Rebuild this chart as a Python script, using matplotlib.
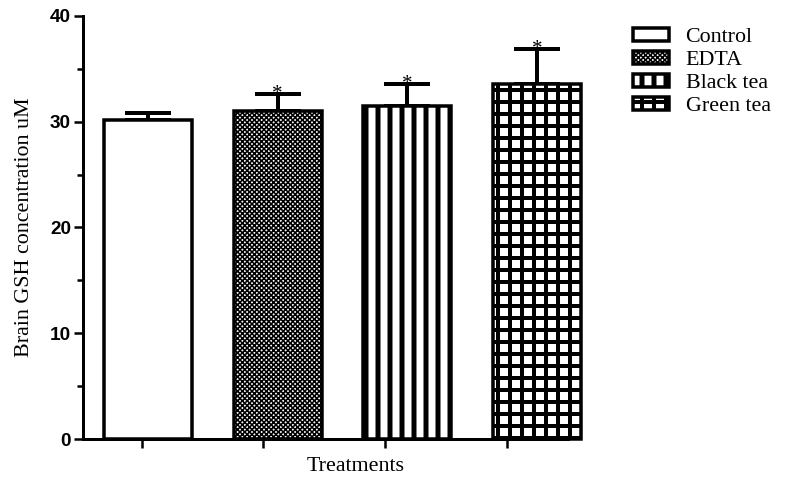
import matplotlib
matplotlib.use("Agg")
import matplotlib.pyplot as plt

treatments = ["Control", "EDTA", "Black tea", "Green tea"]
gsh_mean = [30.2, 31.0, 31.5, 33.6]
gsh_sem = [0.6, 1.6, 2.1, 3.3]
significant = [False, True, True, True]

hatches = ["", "xxxxx", "|", "+"]
hatch_lw = [1.0, 1.6, 5.0, 4.0]

plt.rcParams["font.family"] = ["Liberation Serif", "DejaVu Serif"]

fig = plt.figure(figsize=(788 / 72, 479 / 72), dpi=72)
ax = fig.add_axes([83 / 788, 40 / 479, 485 / 788, 423 / 479])

x = list(range(len(treatments)))
for i in x:
    with plt.rc_context({"hatch.linewidth": hatch_lw[i], "hatch.color": "black"}):
        ax.bar(i, gsh_mean[i], width=0.678, color="white", edgecolor="black",
               linewidth=3.5, hatch=hatches[i], label=treatments[i],
               clip_on=False, zorder=3)

# upward-only error bars (SEM)
ax.errorbar(x, gsh_mean, yerr=[[0] * len(x), gsh_sem], fmt="none", ecolor="black",
            elinewidth=4, capsize=23, capthick=4, zorder=2, clip_on=False)

for i in x:
    if significant[i]:
        ax.annotate("*", (i, gsh_mean[i] + gsh_sem[i]), xytext=(0, -5),
                    textcoords="offset points", ha="center", va="baseline",
                    fontsize=21, zorder=4)

ax.set_xlim(-0.501, 3.238)
ax.set_ylim(0, 40)
ax.set_xticks([-0.046, 0.887, 1.827, 2.768])
ax.set_xticklabels([])
ax.set_yticks([0, 10, 20, 30, 40])
ax.set_yticks([5, 15, 25, 35], minor=True)
for lab in ax.get_yticklabels():
    lab.set_fontfamily("Liberation Sans")
    lab.set_fontweight("bold")
    lab.set_fontsize(19)

ax.tick_params(axis="both", which="major", direction="out", length=9, width=2.5, pad=3)
ax.tick_params(axis="y", which="minor", direction="out", length=6, width=2.5)
for side in ["top", "right"]:
    ax.spines[side].set_visible(False)
for side in ["left", "bottom"]:
    ax.spines[side].set_linewidth(3)

ax.set_ylabel("Brain GSH concentration uM", fontsize=22, labelpad=16)
ax.set_xlabel("Treatments", fontsize=22, va="top")
ax.xaxis.set_label_coords(0.563, -0.042)

leg = fig.legend(loc="upper left", bbox_to_anchor=(624 / 788, 1 - 19 / 479), frameon=False,
                 fontsize=22, handlelength=1.65, handleheight=0.55, handletextpad=0.75,
                 labelspacing=0.16, borderaxespad=0)
for h, lw in zip(leg.legend_handles, hatch_lw):
    if hasattr(h, "set_hatch_linewidth"):
        h.set_hatch_linewidth(lw)
    else:
        h._hatch_linewidth = lw

fig.savefig("out.png", dpi=72)
